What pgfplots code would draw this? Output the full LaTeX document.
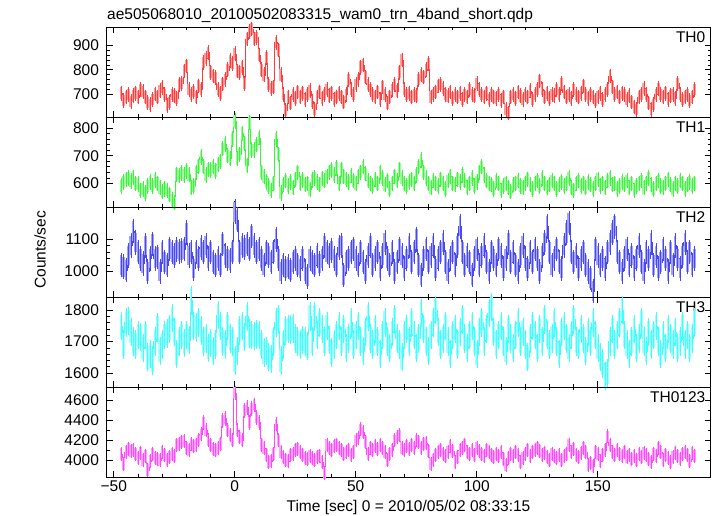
\documentclass[border=0pt]{standalone}
\usepackage{fontspec}
\setmainfont{Liberation Sans}
\usepackage{pgfplots}
\usepackage{pgfplotstable}
\pgfplotsset{compat=1.18}
\newcommand\ff{\fontsize{15.5pt}{18pt}\selectfont}
\definecolor{c0}{rgb}{1,0.15,0.15}
\definecolor{c1}{rgb}{0.15,0.95,0.15}
\definecolor{c2}{rgb}{0.2,0.2,0.95}
\definecolor{c3}{rgb}{0.15,1,1}
\definecolor{c4}{rgb}{1,0.2,1}

\pgfplotstableread{
t a b c d e
-47 705 590 1020 1750 4060
-46 675 605 1015 1690 3960
-45 690 615 1005 1760 4080
-44 700 620 1050 1765 4110
-43 672 608 1080 1730 4090
-42 695 622 1125 1700 4100
-41 705 600 1090 1690 4060
-40 690 598 1060 1720 4020
-39 720 575 1040 1715 4070
-38 712 580 1025 1680 4000
-37 690 565 1080 1720 4040
-36 668 590 1000 1650 3900
-35 660 605 1040 1660 3990
-34 680 590 1085 1640 4060
-33 702 612 1040 1700 4020
-32 690 600 1045 1745 4010
-31 715 585 1000 1670 4000
-30 728 570 1060 1690 4080
-29 700 580 1030 1720 4050
-28 655 575 1020 1725 4000
-27 668 560 1070 1740 4030
-26 700 540 1060 1775 4060
-25 695 530 1050 1730 4040
-24 685 632 1068 1660 4150
-23 740 628 1062 1700 4160
-22 745 638 1065 1720 4180
-21 795 630 1070 1695 4190
-20 815 645 1120 1720 4120
-19 720 632 1050 1705 4100
-18 700 585 1060 1830 4160
-17 712 590 1010 1750 4140
-16 690 640 1060 1745 4150
-15 735 662 1040 1760 4200
-14 720 695 1075 1735 4260
-13 830 660 1060 1700 4380
-12 845 630 1080 1710 4300
-11 870 650 1040 1680 4200
-10 790 648 1060 1695 4150
-9 775 660 1030 1670 4110
-8 768 645 1020 1690 4100
-7 720 668 1040 1785 4120
-6 705 680 1020 1750 4160
-5 742 725 1085 1700 4400
-4 760 742 1050 1690 4420
-3 800 700 1040 1750 4300
-2 838 690 1035 1710 4250
-1 825 760 1060 1700 4200
0 865 825 1185 1640 4680
1 795 690 1160 1670 4300
2 790 705 1060 1735 4230
3 810 780 1080 1750 4200
4 745 745 1075 1715 4500
5 925 665 1085 1780 4530
6 955 820 1070 1725 4380
7 965 720 1110 1720 4520
8 925 720 1080 1718 4560
9 930 740 1060 1722 4430
10 860 765 1070 1720 4380
11 800 640 1040 1690 4150
12 780 625 1020 1665 4120
13 850 605 1060 1670 4050
14 740 590 1050 1650 3980
15 725 575 1030 1645 3990
16 730 600 1060 1700 4060
17 910 760 1100 1760 4360
18 880 705 1040 1770 4200
19 780 565 1000 1640 4080
20 700 595 1020 1690 4030
21 635 610 1010 1735 4000
22 690 590 1015 1740 3990
23 665 605 1005 1738 4050
24 700 585 1030 1742 4060
25 685 615 1040 1710 4100
26 710 640 1020 1700 4110
27 690 600 1010 1690 4080
28 705 612 1040 1705 4050
29 680 595 1000 1700 4020
30 700 600 985 1685 4010
31 715 578 1040 1780 4040
32 672 612 1030 1700 4020
33 640 620 1020 1780 4000
34 690 605 1050 1720 4030
35 710 595 1025 1760 4040
36 685 618 1040 1740 3980
37 700 610 1080 1700 3870
38 720 625 1060 1750 4150
39 695 640 1050 1705 4120
40 705 648 1065 1665 4100
41 680 630 1040 1690 4140
42 690 655 1020 1720 4150
43 705 600 1075 1750 4120
44 690 650 1080 1700 4100
45 670 625 990 1740 4060
46 700 615 1030 1680 4080
47 760 605 1040 1710 4100
48 720 628 1060 1760 4050
49 700 610 1070 1690 4080
50 740 600 1040 1720 4200
51 760 625 1020 1750 4220
52 810 640 1060 1700 4310
53 820 660 1030 1670 4280
54 770 635 1000 1730 4180
55 740 610 1050 1780 4060
56 720 600 1080 1710 4120
57 700 590 1020 1690 4100
58 690 615 1040 1740 4140
59 710 600 1060 1700 4110
60 680 640 1010 1660 4150
61 730 620 1050 1720 4120
62 700 595 1090 1760 4080
63 665 610 1040 1700 4000
64 690 580 1020 1680 4060
65 720 600 1060 1730 4100
66 740 625 1000 1770 4200
67 715 610 1030 1710 4230
68 790 650 1070 1690 4250
69 840 620 1050 1650 4120
70 720 600 1010 1720 4100
71 700 590 1040 1740 4140
72 705 605 1080 1700 4110
73 690 615 1030 1760 4150
74 700 600 1060 1720 4120
75 695 630 1100 1680 4200
76 760 660 1020 1710 4180
77 780 685 990 1790 4120
78 770 640 1040 1740 4160
79 800 620 1070 1700 4170
80 825 600 1030 1670 4090
81 690 585 1050 1720 3960
82 700 610 1080 1760 4000
83 710 600 1010 1800 4050
84 735 590 1040 1730 4080
85 740 615 1060 1690 4100
86 725 600 1090 1710 4060
87 700 580 1030 1750 4040
88 695 610 1000 1700 4080
89 710 625 1040 1660 4140
90 685 600 1060 1720 4090
91 700 595 1020 1740 3980
92 690 615 1080 1690 4030
93 705 605 1140 1730 4100
94 680 630 1060 1770 4120
95 700 610 1020 1710 4150
96 690 585 1050 1680 4080
97 720 600 1030 1720 4060
98 700 620 990 1750 4100
99 695 590 1040 1700 4050
100 745 605 1070 1660 4120
101 720 640 1020 1730 4090
102 700 660 1050 1760 4060
103 690 630 1080 1700 4040
104 705 610 1030 1740 4100
105 680 600 1000 1790 4080
106 700 595 1060 1810 4050
107 690 580 1040 1730 4030
108 685 610 1020 1690 4060
109 700 600 1070 1720 4040
110 675 575 1050 1750 4080
111 690 590 1010 1700 4010
112 640 600 1040 1670 3950
113 625 585 1090 1740 4020
114 690 570 1030 1710 4060
115 700 595 1060 1680 4040
116 685 600 1020 1720 4080
117 710 610 1000 1760 4050
118 695 590 1050 1700 3980
119 680 585 1080 1730 4020
120 700 600 1040 1690 4060
121 690 615 1010 1650 4100
122 715 595 1060 1710 4040
123 680 580 1030 1750 4080
124 700 600 1070 1720 4100
125 720 610 1040 1680 4120
126 755 590 1000 1740 4090
127 720 620 1050 1700 4050
128 690 600 1090 1770 4070
129 705 585 1140 1720 4030
130 685 595 1060 1690 4000
131 700 610 1020 1710 4060
132 695 600 1040 1760 4040
133 720 580 1070 1700 4020
134 700 595 1030 1660 4050
135 745 605 1010 1730 4000
136 710 590 1080 1750 4040
137 690 600 1120 1710 4060
138 700 620 1150 1680 4150
139 685 585 1060 1720 4080
140 720 575 1030 1770 4110
141 700 600 1050 1700 4050
142 690 610 1010 1690 4030
143 705 590 1040 1740 4070
144 735 600 1060 1710 4120
145 700 585 1020 1670 4080
146 685 605 1000 1730 3950
147 700 595 980 1700 3970
148 690 580 940 1760 3940
149 675 600 1070 1720 4080
150 690 615 1050 1680 4060
151 705 590 1020 1650 3990
152 680 600 1040 1630 4050
153 700 585 1010 1590 4100
154 720 610 1060 1600 4240
155 775 620 1090 1700 4150
156 730 595 1120 1740 4080
157 700 600 1140 1690 4050
158 710 580 1060 1720 4100
159 690 590 1030 1760 4060
160 705 605 1000 1800 4040
161 700 595 1040 1720 4080
162 680 610 1070 1690 4030
163 695 585 1020 1660 4050
164 670 600 1050 1700 4010
165 650 575 1010 1740 4040
166 640 590 1040 1680 4000
167 690 600 1080 1710 4060
168 700 610 1030 1760 4030
169 725 585 1000 1700 4070
170 700 600 1060 1670 4050
171 665 620 1040 1730 4010
172 640 595 1090 1690 3980
173 660 580 1020 1720 4060
174 700 600 1050 1750 4040
175 725 610 1010 1700 4120
176 700 590 1030 1660 4080
177 690 585 1070 1720 4000
178 705 600 1040 1680 4050
179 680 615 1000 1740 4020
180 695 595 1060 1710 3980
181 700 580 1020 1690 4030
182 685 600 1080 1730 4070
183 745 590 1040 1680 4040
184 700 610 1010 1700 4010
185 680 600 1050 1750 4060
186 690 580 1090 1690 4080
187 700 595 1030 1720 4050
188 675 605 1060 1680 3990
189 690 590 1020 1710 4070
190 720 600 1040 1760 4040
}\data

\pgfplotsset{
  panel/.style={
    width=604pt, height=90pt, scale only axis, anchor=south west,
    xmin=-53, xmax=196.6,
    xtick={-50,0,50,100,150}, minor x tick num=4,
    xticklabels={},
    minor y tick num=4,
    tick align=inside,
    major tick length=6pt, minor tick length=3pt,
    every tick/.style={black, line width=0.6pt},
    axis line style={black, line width=0.8pt},
    /pgf/number format/1000 sep={},
    /pgf/number format/assume math mode=true,
    yticklabel style={font=\ff, xshift=-4pt},
    xticklabel style={font=\ff},
    clip=false,
  }
}
% #1 column, #2 colour, #3 half-length of light bar (pt), #4 half-length of thin bar (pt)
\newcommand\curve[4]{%
  \addplot[only marks, mark=|, mark size=#3,
    every mark/.append style={line width=2.6pt, draw=#2!45, solid}] table[x=t,y=#1]{\data};
  \addplot[const plot mark mid, #2!90, line width=0.4pt, mark=|, mark size=#4,
    every mark/.append style={line width=0.4pt, draw=#2!90}] table[x=t,y=#1]{\data};
}
\newcommand\tag[1]{\node[anchor=north east, inner sep=0pt, font=\ff, xshift=-5pt, yshift=-4pt] at (rel axis cs:1,1) {#1};}

\begin{document}
\begin{tikzpicture}
\path[use as bounding box] (0,0) rectangle (717pt,516pt);

\begin{axis}[panel, at={(106.5pt,398.5pt)}, ymin=607, ymax=971, ytick={700,800,900}]
\curve{a}{c0}{5.8pt}{7.3pt}
\tag{TH0}
\end{axis}

\begin{axis}[panel, at={(106.5pt,308.5pt)}, ymin=513, ymax=838, ytick={600,700,800}]
\curve{b}{c1}{6.1pt}{7.7pt}
\tag{TH1}
\end{axis}

\begin{axis}[panel, at={(106.5pt,218.5pt)}, ymin=920, ymax=1198, ytick={1000,1100}]
\curve{c}{c2}{9.8pt}{12.3pt}
\tag{TH2}
\end{axis}

\begin{axis}[panel, at={(106.5pt,128.5pt)}, ymin=1554, ymax=1840, ytick={1600,1700,1800}]
\curve{d}{c3}{11.3pt}{14.2pt}
\tag{TH3}
\end{axis}

\begin{axis}[panel, at={(106.5pt,38.5pt)}, ymin=3823, ymax=4733, ytick={4000,4200,4400,4600}, minor y tick num=1,
  xticklabels={−50,0,50,100,150}]
\curve{e}{c4}{5.7pt}{7.1pt}
\tag{TH0123}
\end{axis}

\node[anchor=base west, font=\ff, inner sep=0pt] at (107pt,496pt) {ae505068010\_20100502083315\_wam0\_trn\_4band\_short.qdp};
\node[rotate=90, font=\ff] at (40pt,266pt) {Counts/sec};
\node[anchor=base, font=\ff, inner sep=0pt] at (408.5pt,4pt) {Time [sec] 0 = 2010/05/02 08:33:15};
\end{tikzpicture}
\end{document}
